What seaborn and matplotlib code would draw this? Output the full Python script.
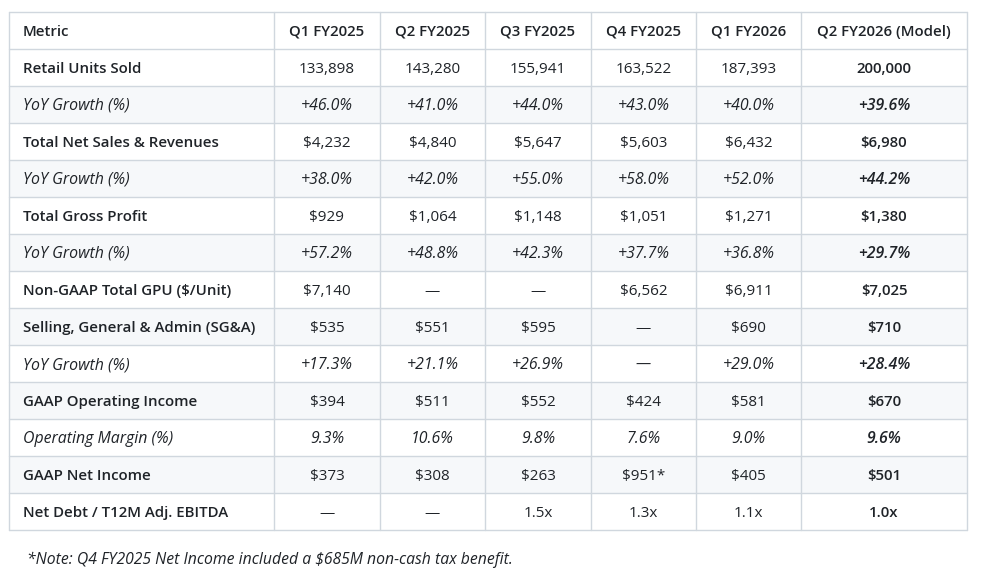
import matplotlib
matplotlib.use("Agg")
import matplotlib.pyplot as plt
import seaborn as sns

# Table content
header = ["Metric", "Q1 FY2025", "Q2 FY2025", "Q3 FY2025", "Q4 FY2025", "Q1 FY2026", "Q2 FY2026 (Model)"]
metrics = ["Retail Units Sold", "YoY Growth (%)", "Total Net Sales & Revenues", "YoY Growth (%)",
           "Total Gross Profit", "YoY Growth (%)", "Non-GAAP Total GPU ($/Unit)",
           "Selling, General & Admin (SG&A)", "YoY Growth (%)", "GAAP Operating Income",
           "Operating Margin (%)", "GAAP Net Income", "Net Debt / T12M Adj. EBITDA"]
q1_fy25 = ["133,898", "+46.0%", "$4,232", "+38.0%", "$929", "+57.2%", "$7,140", "$535", "+17.3%", "$394", "9.3%", "$373", "—"]
q2_fy25 = ["143,280", "+41.0%", "$4,840", "+42.0%", "$1,064", "+48.8%", "—", "$551", "+21.1%", "$511", "10.6%", "$308", "—"]
q3_fy25 = ["155,941", "+44.0%", "$5,647", "+55.0%", "$1,148", "+42.3%", "—", "$595", "+26.9%", "$552", "9.8%", "$263", "1.5x"]
q4_fy25 = ["163,522", "+43.0%", "$5,603", "+58.0%", "$1,051", "+37.7%", "$6,562", "—", "—", "$424", "7.6%", "$951*", "1.3x"]
q1_fy26 = ["187,393", "+40.0%", "$6,432", "+52.0%", "$1,271", "+36.8%", "$6,911", "$690", "+29.0%", "$581", "9.0%", "$405", "1.1x"]
q2_fy26 = ["200,000", "+39.6%", "$6,980", "+44.2%", "$1,380", "+29.7%", "$7,025", "$710", "+28.4%", "$670", "9.6%", "$501", "1.0x"]
italic_rows = ["YoY Growth (%)", "Operating Margin (%)"]
note = "*Note: Q4 FY2025 Net Income included a $685M non-cash tax benefit."

columns = [q1_fy25, q2_fy25, q3_fy25, q4_fy25, q1_fy26, q2_fy26]

sns.set_theme(style="white")
plt.rcParams['font.family'] = ['Open Sans', 'DejaVu Sans']

W, H = 998, 576
fig = plt.figure(figsize=(W / 100, H / 100), dpi=100)
ax = fig.add_axes([0, 0, 1, 1])
ax.set_xlim(0, W)
ax.set_ylim(H, 0)
ax.axis("off")

# layout in pixels
col_edges = [9, 274, 380, 485, 591, 696, 801, 967]
top, row_h = 12, 37
border = "#d0d7de"
stripe = "#f6f8fa"
txt = "#1f2328"
fs_bold, fs_reg, fs_it = 10.85, 11.0, 11.4
base_off = 5.5  # baseline below row centre


def cell(x, yc, s, ha, bold=False, italic=False):
    fs = fs_it if italic else (fs_bold if bold else fs_reg)
    ax.text(x, yc + base_off, s, ha=ha, va="baseline", fontsize=fs,
            fontweight="semibold" if bold else "normal",
            fontstyle="italic" if italic else "normal", color=txt)


n_rows = len(metrics) + 1
bottom = top + n_rows * row_h

# striped backgrounds
for i in range(len(metrics)):
    if i % 2 == 1:
        y0 = top + (i + 1) * row_h
        ax.add_patch(plt.Rectangle((col_edges[0], y0), col_edges[-1] - col_edges[0], row_h,
                                   facecolor=stripe, edgecolor="none", zorder=0))

# grid lines
for r in range(n_rows + 1):
    y = top + r * row_h
    ax.plot([col_edges[0], col_edges[-1]], [y, y], color=border, lw=1, zorder=1)
for x in col_edges:
    ax.plot([x, x], [top, bottom], color=border, lw=1, zorder=1)

# header
for j, h in enumerate(header):
    yc = top + row_h / 2
    if j == 0:
        cell(col_edges[0] + 14, yc, h, "left", bold=True)
    else:
        cell((col_edges[j] + col_edges[j + 1]) / 2, yc, h, "center", bold=True)

# body
for i, m in enumerate(metrics):
    yc = top + (i + 1) * row_h + row_h / 2
    ital = m in italic_rows
    cell(col_edges[0] + 14, yc, m, "left", bold=not ital, italic=ital)
    for j, col in enumerate(columns):
        xc = (col_edges[j + 1] + col_edges[j + 2]) / 2
        cell(xc, yc, col[i], "center", bold=(j == len(columns) - 1), italic=ital)

ax.text(27, 564, note, ha="left", va="baseline", fontsize=11.35, fontstyle="italic", color=txt)

fig.savefig("out.png", dpi=100)
